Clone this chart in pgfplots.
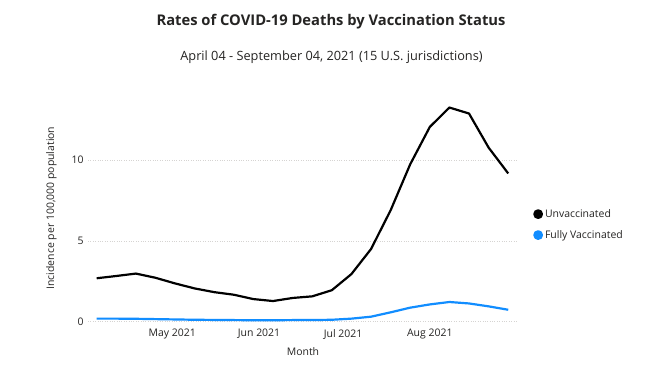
\documentclass[border=0pt]{standalone}
\usepackage{pgfplots}
\pgfplotsset{compat=1.18}
\usepackage{fontspec}
\setmainfont{Open Sans}
\definecolor{pbblue}{HTML}{118DFF}
\definecolor{txt}{HTML}{252423}
\definecolor{gridc}{HTML}{D6D4D2}
\begin{document}
\begin{tikzpicture}[x=1bp,y=1bp]
\path[use as bounding box, fill=white] (0,0) rectangle (648,364);
\node[font=\bfseries\fontsize{14.8}{17}\selectfont, text=txt] at (331,342) {Rates of COVID-19 Deaths by Vaccination Status};
\node[font=\fontsize{12.8}{15}\selectfont, text=txt] at (331.5,307) {April 04 - September 04, 2021 (15 U.S. jurisdictions)};
\begin{axis}[
  at={(88bp,42.3bp)}, anchor=south west,
  scale only axis, width=430bp, height=227.4bp,
  xmin=-3.1, xmax=150.5, ymin=0, ymax=14.08,
  axis line style={draw=none},
  major tick length=0pt,
  xtick={27,58,88,119},
  xticklabels={May 2021,Jun 2021,Jul 2021,Aug 2021},
  ytick={0,5,10},
  ymajorgrids, grid style={dotted, gridc, line width=0.7pt},
  tick label style={font=\fontsize{10.5}{12}\selectfont, text=txt},
  /pgf/number format/assume math mode=true,
  xticklabel style={yshift=-4bp},
  yticklabel style={xshift=-1bp},
  xlabel={Month}, ylabel={Incidence per 100,000 population},
  label style={font=\fontsize{10.5}{12}\selectfont, text=txt},
  xlabel style={yshift=-1bp},
  ylabel style={yshift=8bp},
  legend style={draw=none, fill=none, at={(1.035,0.427)}, anchor=west,
    font=\fontsize{10.5}{12}\selectfont, text=txt, row sep=7.5bp, inner sep=0pt},
  legend cell align=left,
  clip=false,
]
\addplot[black, line width=2.2pt, line join=round,
  legend image code/.code={\fill (3.5bp,0) circle (3.8bp);}] coordinates {
(0,2.69)(7,2.83)(14,2.98)(21,2.72)(28,2.37)(35,2.06)(42,1.83)(49,1.67)(56,1.40)(63,1.28)(70,1.47)(77,1.57)(84,1.95)(91,2.95)(98,4.50)(105,6.90)(112,9.75)(119,12.06)(126,13.26)(133,12.89)(140,10.78)(147,9.18)};
\addlegendentry{Unvaccinated}
\addplot[pbblue, line width=2.2pt, line join=round,
  legend image code/.code={\fill (3.5bp,0) circle (3.8bp);}] coordinates {
(0,0.19)(7,0.19)(14,0.18)(21,0.16)(28,0.14)(35,0.12)(42,0.11)(49,0.10)(56,0.09)(63,0.09)(70,0.10)(77,0.10)(84,0.12)(91,0.19)(98,0.31)(105,0.58)(112,0.87)(119,1.07)(126,1.22)(133,1.13)(140,0.95)(147,0.74)};
\addlegendentry{Fully Vaccinated}
\end{axis}
\end{tikzpicture}
\end{document}
